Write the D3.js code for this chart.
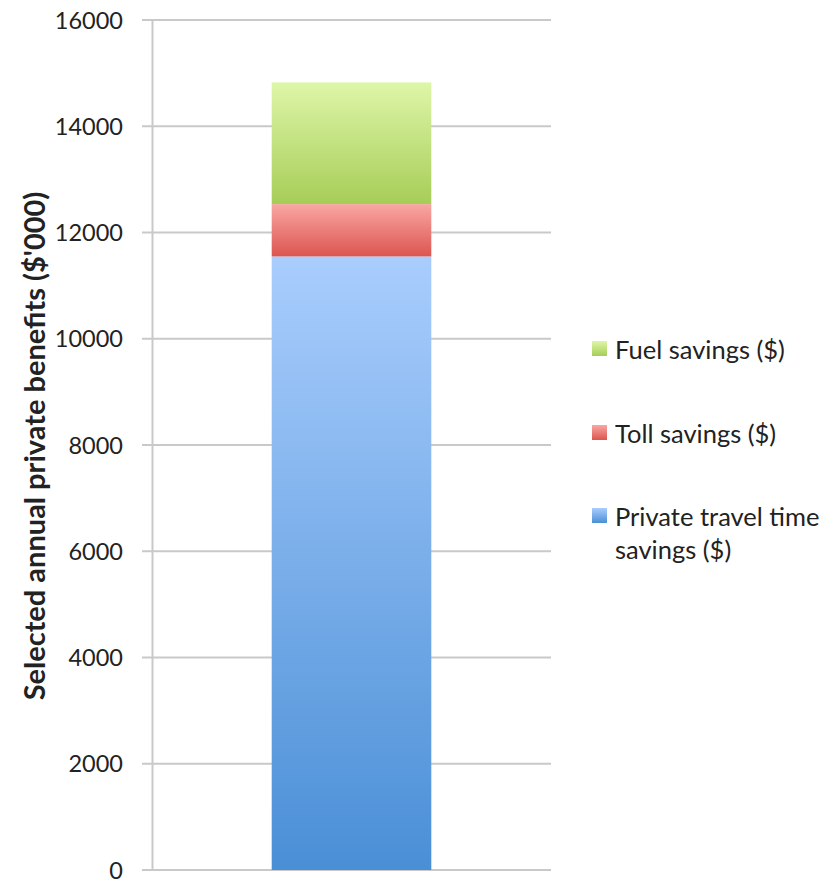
<!DOCTYPE html>
<html>
<head>
<meta charset="utf-8">
<script src="https://cdn.jsdelivr.net/npm/d3@7.9.0/dist/d3.min.js"></script>
<style>
  body { margin: 0; background: #fff; }
  svg text { font-family: Lato, "Open Sans", sans-serif; fill: #222; }
</style>
</head>
<body>
<svg width="829" height="883"></svg>
<script>
// data (values in $'000)
const categories = [''];
const seriesNames = ['Private travel time savings ($)', 'Toll savings ($)', 'Fuel savings ($)'];
const seriesKeys = ['time', 'toll', 'fuel'];
const timeValues = [11550];
const tollValues = [985];
const fuelValues = [2290];
const yTicks = [0, 2000, 4000, 6000, 8000, 10000, 12000, 14000, 16000];

const svg = d3.select('svg');

const y = d3.scaleLinear().domain([0, 16000]).range([870, 20]);
const x = d3.scaleBand().domain(categories).range([152, 551])
  .paddingInner(0.6).paddingOuter(0.2956);

// gradients
const grads = {
  time: ['#a9cdfd', '#4a8fd6'],
  toll: ['#f9a7a3', '#dc5550'],
  fuel: ['#def6a8', '#a7cd58']
};
const defs = svg.append('defs');
seriesKeys.forEach(k => {
  const g = defs.append('linearGradient').attr('id', 'g-' + k)
    .attr('x1', 0).attr('y1', 0).attr('x2', 0).attr('y2', 1);
  g.append('stop').attr('offset', '0%').attr('stop-color', grads[k][0]);
  g.append('stop').attr('offset', '100%').attr('stop-color', grads[k][1]);
});

// gridlines
svg.append('g').selectAll('line').data(yTicks).join('line')
  .attr('x1', 142).attr('x2', 551)
  .attr('y1', d => y(d)).attr('y2', d => y(d))
  .attr('stroke', '#c9c9c9').attr('stroke-width', 2);

// y axis
const yAxis = d3.axisLeft(y).tickValues(yTicks).tickSize(0).tickPadding(0).tickFormat(d3.format('d'));
const ga = svg.append('g').attr('transform', 'translate(152,0)').call(yAxis);
ga.select('.domain').attr('stroke', '#c9c9c9').attr('stroke-width', 2);
ga.selectAll('text').attr('x', -29).attr('dy', '0.35em')
  .style('font-size', '23.5px').attr('fill', '#222');

// stacked bar
const table = categories.map((c, i) => ({ cat: c, time: timeValues[i], toll: tollValues[i], fuel: fuelValues[i] }));
const stacked = d3.stack().keys(seriesKeys)(table);
svg.append('g').selectAll('g').data(stacked).join('g')
  .attr('fill', d => 'url(#g-' + d.key + ')')
  .selectAll('rect').data(d => d).join('rect')
  .attr('x', d => x(d.data.cat))
  .attr('width', x.bandwidth())
  .attr('y', d => y(d[1]))
  .attr('height', d => y(d[0]) - y(d[1]));

// y title
svg.append('text')
  .attr('transform', 'translate(45,446) rotate(-90)')
  .attr('text-anchor', 'middle')
  .style('font-size', '29px').style('font-weight', 'bold')
  .text("Selected annual private benefits ($'000)");

// legend
const legendItems = [
  { key: 'fuel', lines: ['Fuel savings ($)'], y: 350 },
  { key: 'toll', lines: ['Toll savings ($)'], y: 434 },
  { key: 'time', lines: ['Private travel time', 'savings ($)'], y: 517 }
];
const lg = svg.append('g').selectAll('g').data(legendItems).join('g')
  .attr('transform', d => `translate(592,${d.y})`);
lg.append('rect').attr('x', 0).attr('y', -9).attr('width', 15).attr('height', 15)
  .attr('fill', d => 'url(#g-' + d.key + ')');
lg.append('text').attr('x', 23).style('font-size', '25.5px')
  .selectAll('tspan').data(d => d.lines).join('tspan')
  .attr('x', 23).attr('y', (d, i) => i * 33).attr('dy', '0.35em')
  .text(d => d);
</script>
</body>
</html>
